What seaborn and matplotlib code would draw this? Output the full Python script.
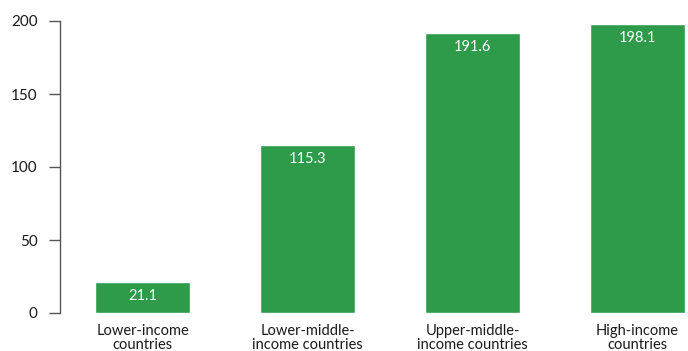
import pandas as pd
import seaborn as sns
import matplotlib.pyplot as plt

# data
categories = ["Lower-income\ncountries", "Lower-middle-\nincome countries",
              "Upper-middle-\nincome countries", "High-income\ncountries"]
values = [21.1, 115.3, 191.6, 198.1]
value_labels = ["21.1", "115.3", "191.6", "198.1"]
yticks = [0, 50, 100, 150, 200]

df = pd.DataFrame({"group": categories, "value": values})

sns.set_style("white")
plt.rcParams["font.family"] = ["Lato", "DejaVu Sans"]

fig = plt.figure(figsize=(6.88, 3.51), dpi=100)
# axes runs past the right edge of the figure on purpose
ax = fig.add_axes([60 / 688, 38 / 351, 660 / 688, 292 / 351])

sns.barplot(data=df, x="group", y="value", color="#2e9b4b", width=0.576,
            saturation=1, ax=ax)

# value labels inside the top of each bar
for i, (v, lab) in enumerate(zip(values, value_labels)):
    ax.annotate(lab, (i, v), xytext=(0, -10), textcoords="offset points",
                ha="center", va="center", color="white", fontsize=10.5)

ax.set_xlim(-0.5, 3.5)
ax.set_ylim(0, 200)
ax.set_yticks(yticks)
ax.set_xlabel("")
ax.set_ylabel("")

sns.despine(ax=ax, bottom=True)
ax.spines["left"].set_color("#555555")
ax.spines["left"].set_linewidth(1.0)
ax.tick_params(axis="y", length=8, width=1, color="#555555", pad=8,
               labelsize=11, labelcolor="#1a1a1a", left=True)
ax.tick_params(axis="x", length=0, pad=8, labelsize=10.5, labelcolor="#1a1a1a")
for t in ax.get_xticklabels():
    t.set_linespacing(1.0)

fig.savefig("out.png", dpi=100)
